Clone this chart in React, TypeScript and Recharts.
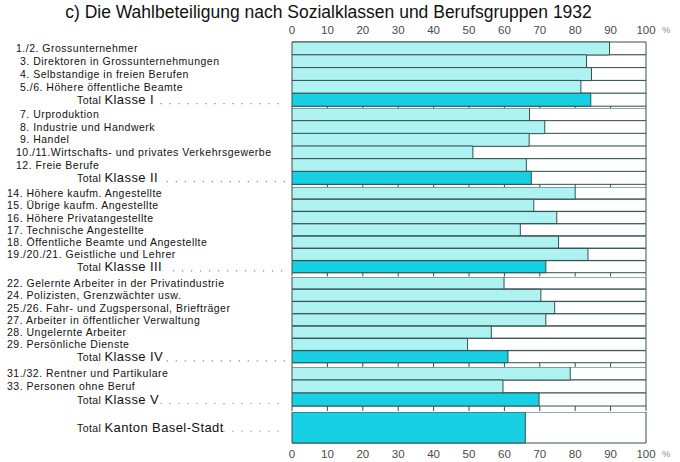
import React from 'react';
import { BarChart, Bar, XAxis, YAxis, Cell } from 'recharts';

const TITLE = 'c) Die Wahlbeteiligung nach Sozialklassen und Berufsgruppen 1932';
const AXIS_TICKS = [0, 10, 20, 30, 40, 50, 60, 70, 80, 90, 100];

const classILabels = [
  '1./2. Grossunternehmer',
  '3. Direktoren in Grossunternehmungen',
  '4. Selbstandige in freien Berufen',
  '5./6. Höhere öffentliche Beamte',
  'Total Klasse I',
];
const classIValues = [89.7, 83.2, 84.6, 81.6, 84.4];

const classIILabels = [
  '7. Urproduktion',
  '8. Industrie und Handwerk',
  '9. Handel',
  '10./11.Wirtschafts- und privates Verkehrsgewerbe',
  '12. Freie Berufe',
  'Total Klasse II',
];
const classIIValues = [67.1, 71.4, 67.0, 51.1, 66.2, 67.6];

const classIIILabels = [
  '14. Höhere kaufm. Angestellte',
  '15. Übrige kaufm. Angestellte',
  '16. Höhere Privatangestellte',
  '17. Technische Angestellte',
  '18. Öffentliche Beamte und Angestellte',
  '19./20./21. Geistliche und Lehrer',
  'Total Klasse III',
];
const classIIIValues = [80.0, 68.3, 74.8, 64.5, 75.3, 83.6, 71.7];

const classIVLabels = [
  '22. Gelernte Arbeiter in der Privatindustrie',
  '24. Polizisten, Grenzwächter usw.',
  '25./26. Fahr- und Zugspersonal, Briefträger',
  '27. Arbeiter in öffentlicher Verwaltung',
  '28. Ungelernte Arbeiter',
  '29. Persönliche Dienste',
  'Total Klasse IV',
];
const classIVValues = [59.9, 70.3, 74.2, 71.7, 56.3, 49.6, 61.0];

const classVLabels = [
  '31./32. Rentner und Partikulare',
  '33. Personen ohne Beruf',
  'Total Klasse V',
];
const classVValues = [78.6, 59.6, 69.8];

const cantonLabels = ['Total Kanton Basel-Stadt'];
const cantonValues = [65.9];

const FONT = '"Liberation Sans", Arial, sans-serif';
const LIGHT = '#aef2f2';
const DARK = '#17d0e4';
const LINE = '#345050';
const TEXT = '#111';

function labelX(name: string): number {
  const m = name.match(/^(\d+)\./);
  if (!m) return 18;
  const n = parseInt(m[1], 10);
  if (n >= 13) return 7;
  if (n >= 10 || name.startsWith('1./2.')) return 16;
  return 20;
}

function LabelTick(props: any) {
  const { y, payload } = props;
  const name: string = payload.value;
  if (name.startsWith('Total')) {
    const rest = name.slice(6);
    const dotStart = 77 + 27 + rest.length * 6.3 + 6;
    return (
      <g>
        <text x={77} y={y} dy={4.5} fill={TEXT} fontFamily={FONT} letterSpacing={0.4}>
          <tspan fontSize={10.5}>Total </tspan>
          <tspan fontSize={13}>{rest}</tspan>
        </text>
        <line x1={dotStart} x2={286} y1={y + 4} y2={y + 4} stroke="#888" strokeWidth={1.2} strokeDasharray="1.2 7.8" />
      </g>
    );
  }
  return (
    <text x={labelX(name)} y={y} dy={3.8} fill={TEXT} fontFamily={FONT} fontSize={10.5} letterSpacing={0.5}>
      {name}
    </text>
  );
}

function makeNumberTick(baseline: number) {
  return function NumberTick(props: any) {
    const { x, payload } = props;
    const v = payload.value;
    return (
      <g>
        <text x={x} y={baseline} textAnchor="middle" fill="#4a4a4a" fontFamily={FONT} fontSize={11.5}>
          {v}
        </text>
        {v === 100 ? (
          <text x={x + 16} y={baseline - 1} fill="#8a8a8a" fontFamily={FONT} fontSize={9.5}>
            %
          </text>
        ) : null}
      </g>
    );
  };
}

function EmptyTick() {
  return <g />;
}

interface GroupProps {
  labels: string[];
  values: number[];
  plotTop: number;
  plotHeight: number;
  topAxis?: boolean;
  bottomLabels?: boolean;
  gapBelow: number;
}

function GroupChart({ labels, values, plotTop, plotHeight, topAxis, bottomLabels, gapBelow }: GroupProps) {
  const data = labels.map((name, i) => ({ name, value: values[i] }));
  const topH = topAxis ? 20 : 0;
  const bottomH = bottomLabels ? 20 : Math.max(gapBelow, 1);
  const height = topH + plotHeight + bottomH;
  const barAxis = topAxis ? 't' : 'b';
  return (
    <div style={{ position: 'absolute', left: 0, top: plotTop - topH, width: 680, height }}>
      <BarChart
        width={680}
        height={height}
        data={data}
        layout="vertical"
        margin={{ top: 0, right: 34, bottom: 0, left: 0 }}
        barCategoryGap={0}
      >
        {topAxis ? (
          <XAxis
            xAxisId="t"
            type="number"
            orientation="top"
            domain={[0, 100]}
            allowDataOverflow
            ticks={AXIS_TICKS}
            height={topH}
            axisLine={false}
            tickLine={false}
            tick={makeNumberTick(11.5)}
            interval={0}
          />
        ) : null}
        <XAxis
          xAxisId="b"
          type="number"
          orientation="bottom"
          domain={[0, 100]}
          allowDataOverflow
          ticks={AXIS_TICKS}
          height={bottomH}
          axisLine={false}
          tickLine={bottomLabels ? false : { stroke: LINE, strokeWidth: 1 }}
          tickSize={bottomLabels ? 0 : gapBelow}
          tick={bottomLabels ? makeNumberTick(topH + plotHeight + 15) : EmptyTick}
          interval={0}
        />
        <YAxis
          type="category"
          dataKey="name"
          width={292}
          axisLine={false}
          tickLine={false}
          tick={LabelTick}
          interval={0}
        />
        <Bar
          xAxisId={barAxis}
          dataKey="value"
          isAnimationActive={false}
          stroke={LINE}
          strokeWidth={1}
          background={{ fill: '#ffffff', stroke: LINE, strokeWidth: 1 }}
        >
          {data.map((d, i) => (
            <Cell key={i} fill={d.name.startsWith('Total') ? DARK : LIGHT} />
          ))}
        </Bar>
      </BarChart>
    </div>
  );
}

export default function App() {
  return (
    <div style={{ position: 'absolute', left: 0, top: 0, width: 680, height: 462, background: '#fff', overflow: 'hidden' }}>
      <div
        style={{
          position: 'absolute',
          left: 0,
          top: 2,
          width: 657,
          textAlign: 'center',
          fontFamily: FONT,
          fontSize: 17.5,
          color: '#111',
          whiteSpace: 'nowrap',
        }}
      >
        {TITLE}
      </div>
      <GroupChart labels={classILabels} values={classIValues} plotTop={42} plotHeight={64} topAxis gapBelow={2} />
      <GroupChart labels={classIILabels} values={classIIValues} plotTop={108} plotHeight={76} gapBelow={3} />
      <GroupChart labels={classIIILabels} values={classIIIValues} plotTop={187} plotHeight={86} gapBelow={3.5} />
      <GroupChart labels={classIVLabels} values={classIVValues} plotTop={276.5} plotHeight={86} gapBelow={4.5} />
      <GroupChart labels={classVLabels} values={classVValues} plotTop={367} plotHeight={39} gapBelow={5} />
      <GroupChart labels={cantonLabels} values={cantonValues} plotTop={411.5} plotHeight={30.5} bottomLabels gapBelow={0} />
    </div>
  );
}
